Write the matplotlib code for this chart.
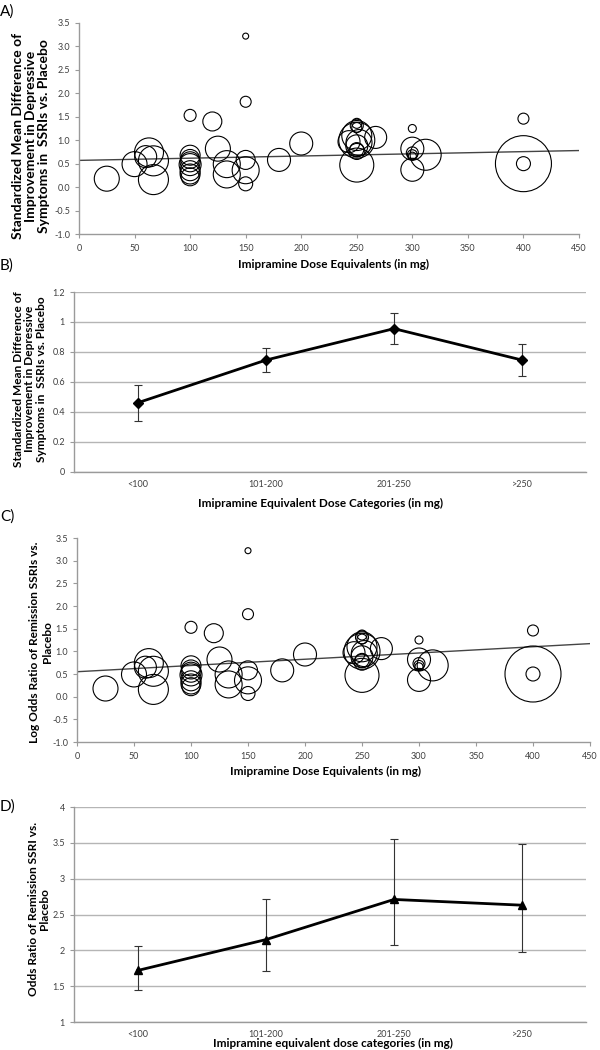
import numpy as np
import matplotlib
matplotlib.use("Agg")
import matplotlib.pyplot as plt

plt.rcParams['font.family'] = ['Lato', 'DejaVu Sans']

W, H = 600, 1050

# study bubbles (same studies in panels A and C)
dose = [25, 50, 60, 63, 67, 67,
        100, 100, 100, 100, 100, 100, 100, 100,
        120, 125, 133, 133,
        150, 150, 150, 150, 150,
        180, 200,
        243, 250, 250, 250, 250, 250, 252, 250, 250, 250, 250, 267,
        300, 300, 300, 300, 300, 300, 312,
        400, 400, 400]
effect = [0.18, 0.49, 0.65, 0.74, 0.56, 0.16,
          1.53, 0.68, 0.60, 0.54, 0.48, 0.35, 0.28, 0.22,
          1.40, 0.82, 0.49, 0.27,
          3.22, 1.82, 0.58, 0.36, 0.07,
          0.58, 0.93,
          0.97, 1.36, 1.31, 1.27, 1.10, 1.00, 0.95, 0.88, 0.80, 0.76, 0.47, 1.06,
          1.25, 0.82, 0.73, 0.69, 0.66, 0.37, 0.69,
          1.46, 0.50, 0.50]
weight = [25, 25, 22, 29, 30, 30,
          12, 20, 19, 20, 22, 20, 20, 18,
          19, 25, 27, 27,
          6, 11, 19, 27, 14,
          23, 23,
          22, 10, 13, 10, 30, 36, 26, 22, 14, 16, 34, 22,
          8, 23, 12, 10, 8, 23, 31,
          11, 14, 56]

fit_dose = [0, 450]
fit_a = [0.57, 0.78]
fit_c = [0.55, 1.17]

categories = ['<100', '101-200', '201-250', '>250']
smd_mean = [0.46, 0.745, 0.955, 0.745]
smd_low = [0.335, 0.665, 0.855, 0.64]
smd_high = [0.575, 0.825, 1.06, 0.855]

or_mean = [1.72, 2.15, 2.71, 2.63]
or_low = [1.44, 1.71, 2.08, 1.98]
or_high = [2.06, 2.72, 3.55, 3.48]

fig = plt.figure(figsize=(W / 100, H / 100), dpi=100)

def px_axes(l, t, r, b):
    return fig.add_axes([l / W, 1 - b / H, (r - l) / W, (b - t) / H])

def px_text(x, y, s, **kw):
    fig.text(x / W, 1 - y / H, s, **kw)

spine_col = '#9a9a9a'
tick_col = '#404040'

def style_axes(ax):
    for side in ['top', 'right']:
        ax.spines[side].set_visible(False)
    for side in ['left', 'bottom']:
        ax.spines[side].set_color(spine_col)
        ax.spines[side].set_linewidth(1.0)
    ax.tick_params(colors=spine_col, labelcolor=tick_col, labelsize=6.5,
                   length=3, width=0.8)

def bubble_panel(ax, fit):
    style_axes(ax)
    ax.scatter(dose, effect, s=(np.array(weight) * 0.72) ** 2,
               facecolors='none', edgecolors='black', linewidths=0.8, zorder=3)
    ax.plot(fit_dose, fit, color='#444444', lw=1.0, zorder=2)
    ax.set_xlim(0, 450)
    ax.set_ylim(-1.0, 3.5)
    ax.set_xticks(np.arange(0, 451, 50))
    ax.set_yticks(np.arange(-1.0, 3.51, 0.5))
    ax.set_yticklabels(['%.1f' % v for v in np.arange(-1.0, 3.51, 0.5)])
    ax.tick_params(axis='x', pad=4)

def line_panel(ax, mean, low, high, marker, ms, yticks, ylabels):
    style_axes(ax)
    pos = np.arange(len(categories)) + 0.5
    mean = np.array(mean)
    yerr = [mean - np.array(low), np.array(high) - mean]
    ax.errorbar(pos, mean, yerr=yerr, color='black', lw=2, marker=marker, ms=ms,
                ecolor='#333333', elinewidth=0.8, capsize=3, capthick=0.8, zorder=3)
    ax.set_xlim(0, len(categories))
    ax.set_ylim(yticks[0], yticks[-1])
    ax.set_yticks(yticks)
    ax.set_yticklabels(ylabels)
    ax.set_xticks(pos)
    ax.set_xticklabels(categories)
    ax.tick_params(axis='x', length=0, pad=6)
    ax.grid(axis='y', color='#b5b5b5', lw=1.0)
    ax.set_axisbelow(True)

lab_kw = dict(fontweight='bold', color='black', ha='center', va='center')

# A
axA = px_axes(79, 23, 579, 234)
bubble_panel(axA, fit_a)
px_text(0, 12, 'A)', fontsize=11, va='center')
px_text(31, 136, 'Standardized Mean Difference of\nImprovement in Depressive\nSymptoms in  SSRIs vs. Placebo',
        rotation=90, fontsize=10, linespacing=1.1, **lab_kw)
px_text(334, 264, 'Imipramine Dose Equivalents (in mg)', fontsize=8.5, **lab_kw)

# B
axB = px_axes(74, 292, 586, 471.5)
line_panel(axB, smd_mean, smd_low, smd_high, 'D', 5,
           [0, 0.2, 0.4, 0.6, 0.8, 1.0, 1.2], ['0', '0.2', '0.4', '0.6', '0.8', '1', '1.2'])
px_text(0, 266, 'B)', fontsize=11, va='center')
px_text(30, 379, 'Standardized Mean Difference of\nImprovement in Depressive\nSymptoms in  SSRIs vs. Placebo',
        rotation=90, fontsize=8.6, linespacing=1.1, **lab_kw)
px_text(321, 503, 'Imipramine Equivalent Dose Categories (in mg)', fontsize=8.5, **lab_kw)

# C
axC = px_axes(77, 538, 590, 742)
bubble_panel(axC, fit_c)
px_text(0, 517, 'C)', fontsize=11, va='center')
px_text(41, 642, 'Log Odds Ratio of Remission SSRIs vs.\nPlacebo',
        rotation=90, fontsize=8.6, linespacing=1.25, **lab_kw)
px_text(325, 771, 'Imipramine Dose Equivalents (in mg)', fontsize=8.5, **lab_kw)

# D
axD = px_axes(74, 807, 586, 1022)
line_panel(axD, or_mean, or_low, or_high, '^', 6,
           [1, 1.5, 2, 2.5, 3, 3.5, 4], ['1', '1.5', '2', '2.5', '3', '3.5', '4'])
px_text(0, 807, 'D)', fontsize=11, va='center')
px_text(39, 909, 'Odds Ratio of Remission SSRI vs.\nPlacebo',
        rotation=90, fontsize=8.6, linespacing=1.1, **lab_kw)
px_text(333, 1043, 'Imipramine equivalent dose categories (in mg)', fontsize=8.5, **lab_kw)

fig.savefig('out.png', dpi=100)
